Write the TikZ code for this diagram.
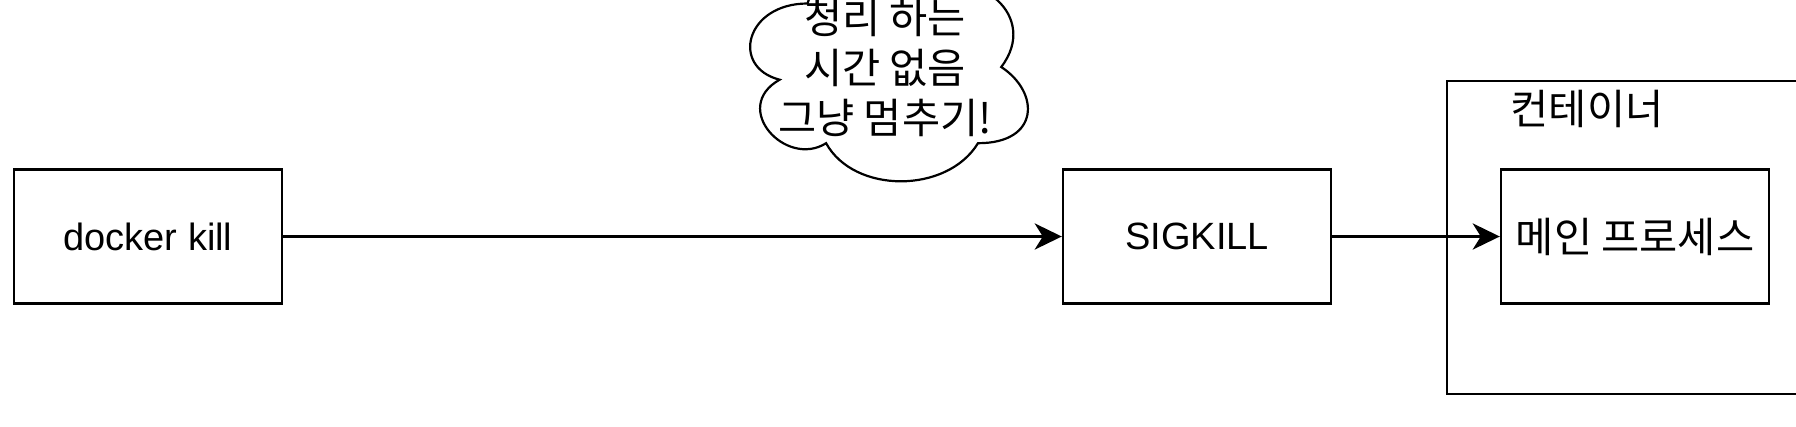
\documentclass[tikz,border=0pt]{standalone}
\usepackage{fontspec}
\setmainfont{Liberation Sans}
\newfontfamily\kr{Noto Sans CJK KR}
\usetikzlibrary{arrows.meta}
\begin{document}
\begin{tikzpicture}[x=1pt,y=-1pt,
  box/.style={draw=black,line width=2.4pt,minimum width=268pt,minimum height=134pt,inner sep=0pt,font=\fontsize{38}{50}\selectfont},
  lbl/.style={inner sep=0pt,font=\fontsize{41.5}{50}\selectfont\kr},
  conn/.style={line width=3.8pt,-{Stealth[length=27pt,width=26pt,inset=8pt]}}]
\useasboundingbox (0,0) rectangle (1796,426);
\fill[white] (0,0) rectangle (1796,426);
% container
\node[draw=black,line width=2.4pt,minimum width=380pt,minimum height=313pt,inner sep=0pt,anchor=north west] (container) at (1445.5,80) {};
\node[lbl] (clabel) at (1587,109) {컨테이너};
% boxes
\node[box] (docker) at (148,236.5) {docker kill};
\node[box] (sig) at (1197,236.5) {SIGKILL};
\node[box,font=\fontsize{41.5}{50}\selectfont\kr] (main) at (1635,236.5) {메인 프로세스};
% cloud (x0=730, y0=-60, w=310, h=254)
\draw[line width=2.2pt,fill=white]
  (807.5,3.5)
  .. controls (745.5,3.5) and (730,67) .. (779.6,79.7)
  .. controls (730,107.6) and (785.8,168.6) .. (826.1,143.2)
  .. controls (854,194) and (947,194) .. (978,143.2)
  .. controls (1040,143.2) and (1040,92.4) .. (1001.25,67)
  .. controls (1040,16.2) and (978,-34.8) .. (923.75,-9.2)
  .. controls (885,-47.3) and (823,-47.3) .. (807.5,3.5) -- cycle;
\node[lbl,align=center] (cloudtext) at (885,68) {청리 하는\\시간 없음\\그냥 멈추기!};
% connectors
\draw[conn] (docker.east) -- (sig.west);
\draw[conn] (sig.east) -- (main.west);
\end{tikzpicture}
\end{document}
